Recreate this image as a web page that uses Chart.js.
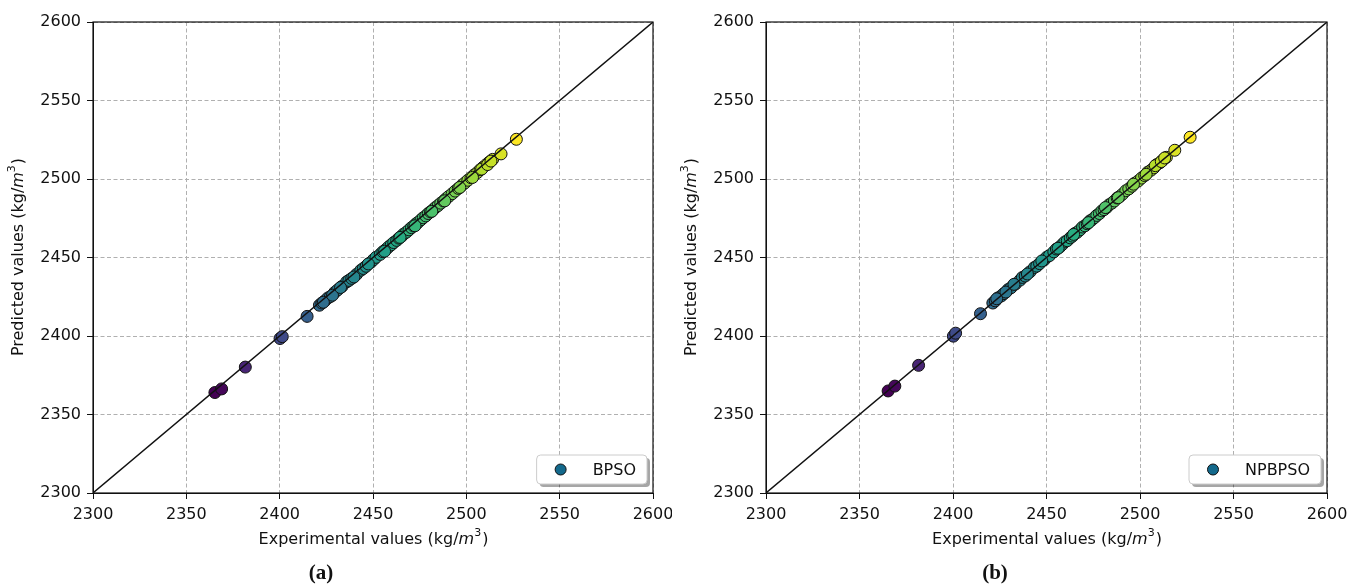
<!DOCTYPE html>
<html lang="en">
<head>
<meta charset="UTF-8">
<title>Experimental vs predicted values</title>
<script src="https://cdn.jsdelivr.net/npm/chart.js"></script>
<style>
    * { margin: 0; padding: 0; box-sizing: border-box; }
    body { width: 1362px; height: 588px; background: #fff; position: relative; overflow: hidden; font-family: 'DejaVu Sans', sans-serif; }
    canvas { position: absolute; top: 0; }
    #chartA { left: 0; }
    #chartB { left: 673px; }
    .tag { position: absolute; top: 562px; width: 60px; text-align: center; font-family: 'Liberation Serif', serif; font-weight: bold; font-size: 21px; line-height: 21px; color: #111; }
</style>
</head>
<body>
<canvas id="chartA" width="672" height="588"></canvas>
<canvas id="chartB" width="689" height="588"></canvas>
<div class="tag" style="left:291px">(a)</div>
<div class="tag" style="left:965px">(b)</div>
<script>
// axis range and tick labels
const axisMin = 2300, axisMax = 2600;
const tickValues = [2300, 2350, 2400, 2450, 2500, 2550, 2600];

// experimental density values (kg/m3), same set for both panels
const experimental = [2365.3, 2368.9, 2381.6, 2400.2, 2401.4, 2414.7, 2421.3, 2422.6, 2424.1, 2425.8,
    2427.2, 2429.5, 2431.0, 2433.4, 2435.9, 2437.1, 2438.6, 2441.2, 2443.5, 2444.8,
    2446.3, 2448.7, 2450.2, 2451.6, 2453.9, 2455.3, 2457.0, 2458.4, 2459.8, 2461.1,
    2462.7, 2463.9, 2465.2, 2466.4, 2467.9, 2469.3, 2470.6, 2471.8, 2473.2, 2474.1,
    2475.7, 2476.9, 2478.3, 2479.6, 2480.8, 2482.2, 2483.5, 2484.9, 2486.3, 2487.8,
    2489.1, 2490.6, 2492.4, 2494.0, 2495.7, 2497.3, 2499.1, 2500.8, 2502.5, 2504.2,
    2505.9, 2507.4, 2509.0, 2510.6, 2512.3, 2514.1, 2518.6, 2526.8,
    2423.4, 2428.3, 2432.6, 2439.8, 2447.5, 2456.2, 2464.5, 2472.5, 2481.5, 2488.4,
    2496.5, 2503.3, 2508.2, 2511.4, 2513.2];

// predicted values, BPSO model (a)
const predictedBPSO = [2364.0, 2366.3, 2380.2, 2398.4, 2399.6, 2412.5, 2419.6, 2421.0, 2422.3, 2424.2,
    2425.1, 2427.8, 2429.3, 2431.6, 2434.5, 2435.4, 2436.7, 2439.3, 2441.9, 2443.0,
    2444.4, 2446.8, 2448.5, 2450.1, 2452.0, 2453.7, 2455.2, 2456.8, 2458.1, 2459.5,
    2460.9, 2462.3, 2463.4, 2464.9, 2466.1, 2467.6, 2469.0, 2470.1, 2471.6, 2472.3,
    2474.0, 2475.3, 2476.5, 2478.0, 2479.1, 2480.4, 2481.9, 2483.1, 2484.6, 2486.0,
    2487.4, 2488.9, 2490.6, 2492.3, 2494.0, 2495.6, 2497.4, 2499.2, 2500.8, 2502.6,
    2504.1, 2505.9, 2507.5, 2509.1, 2510.8, 2512.5, 2516.0, 2525.3,
    2421.5, 2426.0, 2430.9, 2437.6, 2445.9, 2454.0, 2462.8, 2470.2, 2479.4, 2486.1,
    2494.6, 2501.0, 2506.3, 2509.2, 2511.4];

// predicted values, NPBPSO model (b)
const predictedNPBPSO = [2365.0, 2368.1, 2381.3, 2399.9, 2401.8, 2414.2, 2421.0, 2422.4, 2424.3, 2425.5,
    2427.0, 2429.6, 2430.7, 2433.1, 2435.6, 2437.3, 2438.2, 2440.9, 2443.6, 2444.5,
    2446.1, 2448.4, 2450.3, 2451.2, 2453.6, 2455.4, 2456.6, 2458.2, 2459.9, 2460.7,
    2462.5, 2463.6, 2465.3, 2466.0, 2467.6, 2469.4, 2470.2, 2471.5, 2473.3, 2473.8,
    2475.4, 2476.8, 2478.0, 2479.7, 2480.5, 2481.9, 2483.6, 2484.6, 2486.0, 2487.9,
    2488.8, 2490.3, 2492.5, 2493.7, 2495.4, 2497.4, 2498.8, 2500.6, 2502.2, 2504.4,
    2505.6, 2507.1, 2509.2, 2510.3, 2512.1, 2513.8, 2518.3, 2526.6,
    2423.7, 2428.0, 2432.9, 2439.5, 2447.8, 2455.9, 2464.7, 2472.2, 2481.8, 2488.1,
    2496.7, 2503.0, 2508.5, 2511.1, 2513.4];

const FONT = "'DejaVu Sans', sans-serif";
const INK = '#111';

// viridis colormap stops
const viridisStops = ['#440154', '#482475', '#414487', '#355f8d', '#2a788e', '#21918c',
    '#22a884', '#44bf70', '#7ad151', '#bddf26', '#fde725'];

function hexToRgb(h) {
    return [parseInt(h.slice(1, 3), 16), parseInt(h.slice(3, 5), 16), parseInt(h.slice(5, 7), 16)];
}

function viridis(t) {
    t = Math.max(0, Math.min(1, t));
    let pos = t * (viridisStops.length - 1);
    let i = Math.min(Math.floor(pos), viridisStops.length - 2);
    let f = pos - i;
    let a = hexToRgb(viridisStops[i]), b = hexToRgb(viridisStops[i + 1]);
    let c = a.map((v, k) => Math.round(v + (b[k] - v) * f));
    return `rgb(${c[0]},${c[1]},${c[2]})`;
}

// text with italic m and superscript 3
function drawUnitLabel(ctx, label, x, y, vertical) {
    const parts = [
        { t: label + ' (kg/', f: `16px ${FONT}`, dy: 5.5 },
        { t: 'm', f: `italic 16px ${FONT}`, dy: 5.5 },
        { t: '3', f: `11px ${FONT}`, dy: -2.5 },
        { t: ')', f: `16px ${FONT}`, dy: 5.5 }
    ];
    ctx.save();
    ctx.translate(x, y);
    if (vertical) ctx.rotate(-Math.PI / 2);
    ctx.fillStyle = INK;
    ctx.textBaseline = 'alphabetic';
    ctx.textAlign = 'left';
    let widths = parts.map(p => { ctx.font = p.f; return ctx.measureText(p.t).width; });
    let cx = -widths.reduce((s, w) => s + w, 0) / 2;
    parts.forEach((p, i) => {
        ctx.font = p.f;
        ctx.fillText(p.t, cx, p.dy);
        cx += widths[i] + (i === 2 ? 1 : 0);
    });
    ctx.restore();
}

function roundRect(ctx, x, y, w, h, r) {
    ctx.beginPath();
    ctx.moveTo(x + r, y);
    ctx.arcTo(x + w, y, x + w, y + h, r);
    ctx.arcTo(x + w, y + h, x, y + h, r);
    ctx.arcTo(x, y + h, x, y, r);
    ctx.arcTo(x, y, x + w, y, r);
    ctx.closePath();
}

const decorPlugin = {
    id: 'decor',
    afterDatasetsDraw(chart, args, opts) {
        const ctx = chart.ctx;
        const a = chart.chartArea;
        // frame round the plot
        ctx.save();
        ctx.strokeStyle = INK;
        ctx.lineWidth = 1.2;
        ctx.strokeRect(a.left, a.top, a.right - a.left, a.bottom - a.top);

        // legend box, lower right
        ctx.font = `16px ${FONT}`;
        const tw = ctx.measureText(opts.name).width;
        const w = 24 + 32 + tw + 11, h = 29;
        const x = a.right - 6 - w, y = a.bottom - 9 - h;
        ctx.fillStyle = 'rgba(0,0,0,0.35)';
        roundRect(ctx, x + 3, y + 3, w, h, 4);
        ctx.fill();
        ctx.fillStyle = '#fff';
        ctx.strokeStyle = '#cccccc';
        ctx.lineWidth = 1;
        roundRect(ctx, x, y, w, h, 4);
        ctx.fill();
        ctx.stroke();
        ctx.beginPath();
        ctx.arc(x + 24, y + h / 2, 5.5, 0, Math.PI * 2);
        ctx.fillStyle = '#13698c';
        ctx.fill();
        ctx.strokeStyle = INK;
        ctx.stroke();
        ctx.fillStyle = INK;
        ctx.textBaseline = 'middle';
        ctx.fillText(opts.name, x + 56, y + h / 2 + 1);
        ctx.restore();

        // axis titles
        drawUnitLabel(ctx, 'Experimental values', (a.left + a.right) / 2, 538.5, false);
        drawUnitLabel(ctx, 'Predicted values', 17, (a.top + a.bottom) / 2, true);
    }
};

function axisConfig(fit) {
    return {
        type: 'linear',
        min: axisMin,
        max: axisMax,
        afterBuildTicks: s => { s.ticks = tickValues.map(v => ({ value: v })); },
        afterFit: s => {
            fit(s);
            s.paddingLeft = 0; s.paddingRight = 0; s.paddingTop = 0; s.paddingBottom = 0;
        },
        ticks: {
            font: { family: FONT, size: 16 }, color: INK, padding: 6, maxRotation: 0, autoSkip: false,
            callback: v => String(v)
        },
        grid: { color: '#b0b0b0', lineWidth: 1, tickLength: 6, tickColor: INK, tickWidth: 1 },
        border: { display: true, color: INK, width: 1, dash: [4, 2.5] }
    };
}

function makeChart(id, predicted, name, padRight) {
    const lo = Math.min(...predicted), hi = Math.max(...predicted);
    const points = experimental.map((v, i) => ({ x: v, y: predicted[i] }));
    const colors = predicted.map(v => viridis((v - lo) / (hi - lo)));
    return new Chart(document.getElementById(id), {
        type: 'scatter',
        data: {
            datasets: [
                {
                    type: 'line',
                    data: [{ x: axisMin, y: axisMin }, { x: axisMax, y: axisMax }],
                    borderColor: INK,
                    borderWidth: 1.4,
                    pointRadius: 0,
                    order: 0
                },
                {
                    label: name,
                    data: points,
                    backgroundColor: colors,
                    borderColor: INK,
                    borderWidth: 1,
                    pointRadius: 6,
                    order: 1
                }
            ]
        },
        options: {
            responsive: false,
            animation: false,
            devicePixelRatio: 1,
            layout: { padding: { top: 22, right: padRight, bottom: 0, left: 0 } },
            plugins: { legend: { display: false }, tooltip: { enabled: false }, decor: { name: name } },
            scales: {
                x: axisConfig(s => { s.height = 95; }),
                y: axisConfig(s => { s.width = 93; })
            }
        },
        plugins: [decorPlugin]
    });
}

makeChart('chartA', predictedBPSO, 'BPSO', 19);
makeChart('chartB', predictedNPBPSO, 'NPBPSO', 35);
</script>
</body>
</html>
